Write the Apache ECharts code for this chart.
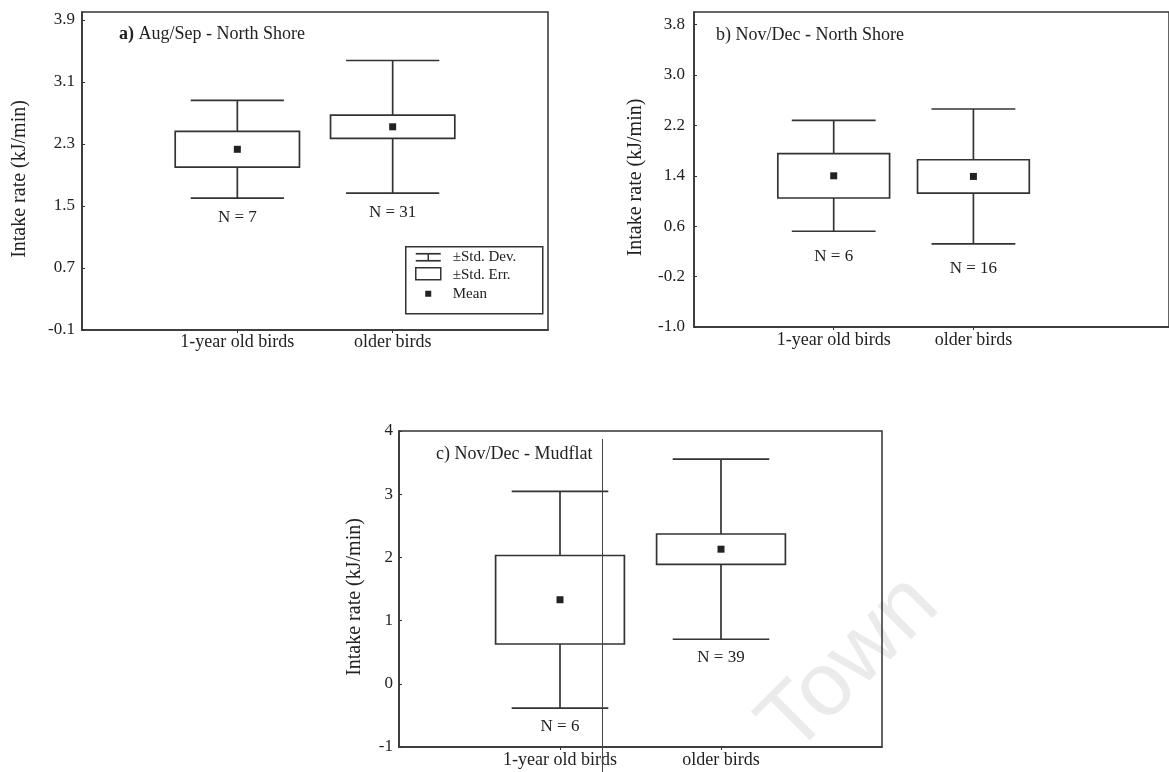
<!DOCTYPE html>
<html>
<head>
<meta charset="utf-8">
<script src="https://cdn.jsdelivr.net/npm/echarts@6/dist/echarts.min.js"></script>
<style>
  html, body { margin: 0; padding: 0; background: #fff; }
  #chart { width: 1169px; height: 772px; }
</style>
</head>
<body>
<div id="chart"></div>
<script>
// Intake rate by age group: mean, ±standard error box, ±standard deviation whiskers
const categories = ['1-year old birds', 'older birds'];

// a) Aug/Sep - North Shore
const meanA = [2.23, 2.52];
const seA = [0.23, 0.15];
const sdA = [0.63, 0.855];
const nA = [7, 31];
const ticksA = [-0.1, 0.7, 1.5, 2.3, 3.1, 3.9];

// b) Nov/Dec - North Shore
const meanB = [1.40, 1.39];
const seB = [0.352, 0.265];
const sdB = [0.88, 1.07];
const nB = [6, 16];
const ticksB = [-1.0, -0.2, 0.6, 1.4, 2.2, 3.0, 3.8];

// c) Nov/Dec - Mudflat
const meanC = [1.33, 2.13];
const seC = [0.70, 0.24];
const sdC = [1.715, 1.425];
const nC = [6, 39];
const ticksC = [-1, 0, 1, 2, 3, 4];

const FONT = "'Liberation Serif', 'DejaVu Serif', serif";
const INK = '#222';
const LINE = '#333';

function rows(mean, se, sd, n) {
  return mean.map((m, i) => [i + 1, m, se[i], sd[i], n[i]]);
}

function boxRenderer(labelGap) {
  return function (params, api) {
    const x = api.value(0), m = api.value(1), se = api.value(2), sd = api.value(3), n = api.value(4);
    const top = api.coord([x, m + sd]);
    const bot = api.coord([x, m - sd]);
    const boxTL = api.coord([x - 0.4, m + se]);
    const boxBR = api.coord([x + 0.4, m - se]);
    const capL = api.coord([x - 0.3, m])[0];
    const capR = api.coord([x + 0.3, m])[0];
    const mid = api.coord([x, m]);
    const ls = { stroke: LINE, lineWidth: 1.7 };
    return {
      type: 'group',
      children: [
        { type: 'line', shape: { x1: top[0], y1: top[1], x2: top[0], y2: boxTL[1] }, style: ls },
        { type: 'line', shape: { x1: bot[0], y1: boxBR[1], x2: bot[0], y2: bot[1] }, style: ls },
        { type: 'line', shape: { x1: capL, y1: top[1], x2: capR, y2: top[1] }, style: ls },
        { type: 'line', shape: { x1: capL, y1: bot[1], x2: capR, y2: bot[1] }, style: ls },
        { type: 'rect', shape: { x: boxTL[0], y: boxTL[1], width: boxBR[0] - boxTL[0], height: boxBR[1] - boxTL[1] },
          style: { fill: '#fff', stroke: LINE, lineWidth: 1.7 } },
        { type: 'rect', shape: { x: mid[0] - 3.5, y: mid[1] - 3.5, width: 7, height: 7 }, style: { fill: INK } },
        { type: 'text', x: bot[0], y: bot[1] + labelGap,
          style: { text: 'N = ' + n, font: '17px ' + FONT, fill: INK, align: 'center', verticalAlign: 'middle' } }
      ]
    };
  };
}

function yAxisFor(gridIndex, min, max, ticks, decimals, nameGap, labelMargin) {
  return {
    type: 'value', gridIndex, min, max,
    name: 'Intake rate (kJ/min)', nameLocation: 'middle', nameGap,
    nameTextStyle: { fontFamily: FONT, fontSize: 20, color: INK, padding: [0, 16, 0, 0] },
    axisLine: { show: true, onZero: false, lineStyle: { color: LINE, width: 1.5 } },
    axisTick: { show: true, inside: true, length: 3, customValues: ticks, lineStyle: { color: LINE } },
    axisLabel: { customValues: ticks, margin: labelMargin, fontFamily: FONT, fontSize: 17, color: INK,
      padding: [0, 0, 6, 0], formatter: v => v.toFixed(decimals) },
    splitLine: { show: false }
  };
}

function xAxisFor(gridIndex, max, margin) {
  return {
    type: 'value', gridIndex, min: 0, max,
    axisLine: { show: true, onZero: false, lineStyle: { color: LINE, width: 1.5 } },
    axisTick: { show: true, length: 3, customValues: [1, 2], lineStyle: { color: LINE } },
    axisLabel: { customValues: [1, 2], margin, fontFamily: FONT, fontSize: 18, color: INK,
      formatter: v => categories[Math.round(v) - 1] || '' },
    splitLine: { show: false }
  };
}

const gridStyle = { show: true, borderColor: LINE, borderWidth: 1.5, backgroundColor: 'transparent' };

const option = {
  animation: false,
  backgroundColor: '#fff',
  title: [
    { text: '{b|a)} Aug/Sep - North Shore', left: 114, top: 20,
      textStyle: { fontFamily: FONT, fontSize: 18, fontWeight: 'normal', color: INK,
        rich: { b: { fontFamily: FONT, fontSize: 18, fontWeight: 'bold', color: INK } } } },
    { text: 'b) Nov/Dec - North Shore', left: 711, top: 21,
      textStyle: { fontFamily: FONT, fontSize: 18, fontWeight: 'normal', color: INK } },
    { text: 'c) Nov/Dec - Mudflat', left: 431, top: 440,
      textStyle: { fontFamily: FONT, fontSize: 18, fontWeight: 'normal', color: INK } }
  ],
  grid: [
    Object.assign({ left: 82, top: 12, width: 466, height: 318 }, gridStyle),
    Object.assign({ left: 694, top: 12, width: 493, height: 315 }, gridStyle),
    Object.assign({ left: 399, top: 431, width: 483, height: 316 }, gridStyle)
  ],
  xAxis: [xAxisFor(0, 3, 3), xAxisFor(1, 3.4, 4), xAxisFor(2, 3, 4)],
  yAxis: [
    yAxisFor(0, -0.1, 4.0, ticksA, 1, 52, 7),
    yAxisFor(1, -1.0, 4.0, ticksB, 1, 48, 9),
    yAxisFor(2, -1, 4, ticksC, 0, 34, 6)
  ],
  series: [
    { type: 'custom', xAxisIndex: 0, yAxisIndex: 0, renderItem: boxRenderer(19), data: rows(meanA, seA, sdA, nA) },
    { type: 'custom', xAxisIndex: 1, yAxisIndex: 1, renderItem: boxRenderer(25), data: rows(meanB, seB, sdB, nB) },
    { type: 'custom', xAxisIndex: 2, yAxisIndex: 2, renderItem: boxRenderer(18), data: rows(meanC, seC, sdC, nC) }
  ],
  graphic: [
    // legend for panel a
    { type: 'group', left: 405, top: 246, children: [
      { type: 'rect', shape: { x: 0, y: 0, width: 137, height: 67 }, style: { fill: '#fff', stroke: LINE, lineWidth: 1.5 } },
      { type: 'line', shape: { x1: 10, y1: 7, x2: 35, y2: 7 }, style: { stroke: LINE, lineWidth: 1.7 } },
      { type: 'line', shape: { x1: 22.5, y1: 7, x2: 22.5, y2: 14 }, style: { stroke: LINE, lineWidth: 1.5 } },
      { type: 'line', shape: { x1: 10, y1: 14, x2: 35, y2: 14 }, style: { stroke: LINE, lineWidth: 1.7 } },
      { type: 'rect', shape: { x: 10, y: 21, width: 25, height: 12 }, style: { fill: '#fff', stroke: LINE, lineWidth: 1.5 } },
      { type: 'rect', shape: { x: 19.5, y: 44, width: 6, height: 6 }, style: { fill: INK } },
      { type: 'text', x: 47, y: 10, style: { text: '\u00b1Std. Dev.', font: '15px ' + FONT, fill: INK, verticalAlign: 'middle' } },
      { type: 'text', x: 47, y: 28, style: { text: '\u00b1Std. Err.', font: '15px ' + FONT, fill: INK, verticalAlign: 'middle' } },
      { type: 'text', x: 47, y: 47, style: { text: 'Mean', font: '15px ' + FONT, fill: INK, verticalAlign: 'middle' } }
    ] },
    // thin vertical rule across panel c
    { type: 'line', shape: { x1: 602.5, y1: 439, x2: 602.5, y2: 772 }, style: { stroke: '#444', lineWidth: 1 }, z: 10 },
    // faint watermark
    { type: 'text', x: 850, y: 665, rotation: Math.PI / 4, z: -1,
      style: { text: 'Town', font: '90px ' + "'Liberation Sans', sans-serif", fill: '#ebebeb', align: 'center', verticalAlign: 'middle' } }
  ]
};

const chart = echarts.init(document.getElementById('chart'), null, { renderer: 'canvas' });
chart.setOption(option);
</script>
</body>
</html>
